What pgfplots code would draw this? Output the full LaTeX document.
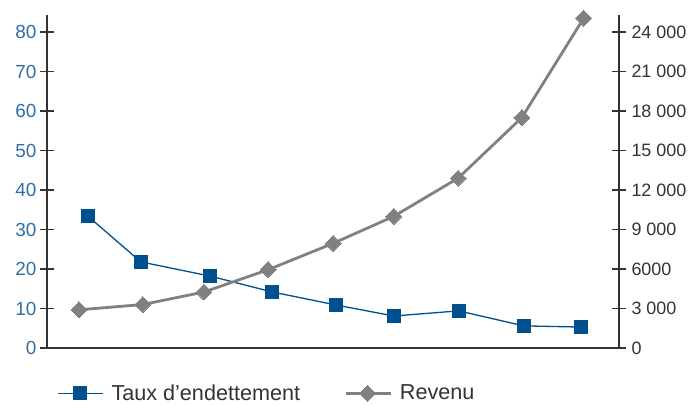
\documentclass[border=0pt]{standalone}
\usepackage{fontspec}
\setmainfont{Liberation Sans}
\usepackage{pgfplots}
\pgfplotsset{compat=1.18}
\definecolor{bleu}{HTML}{00508F}
\definecolor{gris}{HTML}{808080}
\definecolor{ticbleu}{HTML}{2F6EA8}
\definecolor{axe}{HTML}{333333}
\begin{document}
\begin{tikzpicture}
\path[use as bounding box] (0,0) rectangle (688bp,405bp);
\pgfplotsset{
  base/.style={
    scale only axis, width=572bp, height=333bp,
    at={(47bp,57bp)}, anchor=south west,
    xmin=0.493, xmax=9.56, ymin=0,
    /pgf/number format/assume math mode=true,
    scaled y ticks=false,
    tick align=center, major tick length=14bp,
    axis line style={axe, line width=1.1bp},
    tick style={axe, line width=1.1bp},
    xtick=\empty,
  }
}
% taux d'endettement, axe de gauche
\begin{axis}[base,
    ymax=84.3,
    axis y line*=left, axis x line*=bottom,
    ytick={0,10,...,80},
    yticklabel style={text=ticbleu, font=\fontsize{19}{19}\selectfont},
  ]
  \addplot[bleu, line width=1.3bp, mark=square*, mark size=6.5bp]
    coordinates {
      (1.14,33.4) (1.98,21.8) (3.08,18.2) (4.06,14.2) (5.07,10.9)
      (5.99,8.1) (7.02,9.4) (8.05,5.6) (8.96,5.3)
    };
\end{axis}
% revenu, axe de droite
\begin{axis}[base,
    ymax=25290,
    axis y line*=right, axis x line=none,
    ytick={0,3000,...,24000},
    yticklabels={0,3 000,6000,9 000,12 000,15 000,18 000,21 000,24 000},
    yticklabel style={text=axe, font=\fontsize{18}{18}\selectfont, xshift=2bp},
    legend style={draw=none, fill=none, inner sep=0pt,
      at={(0.0175,-0.136)}, anchor=west,
      legend columns=2,
      font=\fontsize{21.7}{23}\selectfont, text=axe,
      /tikz/every odd column/.append style={column sep=6bp},
      /tikz/every even column/.append style={column sep=42bp}},
    legend image code/.code={
      \draw[mark repeat=2, mark phase=2] plot coordinates {(0bp,0bp) (22bp,0bp) (45bp,0bp)};
    },
  ]
  \addlegendimage{bleu, line width=1.3bp, mark=square*, mark size=6.5bp}
  \addlegendentry{Taux d’endettement}
  \addplot[gris, line width=2.8bp, mark=square*, mark size=5.6bp,
      mark options={rotate=45, line width=0pt}]
    coordinates {
      (1,2900) (2.01,3300) (2.98,4250) (4.0,5950) (5.03,7950)
      (5.99,10000) (7.01,12900) (8.02,17500) (9.0,25050)
    };
  \addlegendentry{Revenu}
\end{axis}
\end{tikzpicture}
\end{document}
